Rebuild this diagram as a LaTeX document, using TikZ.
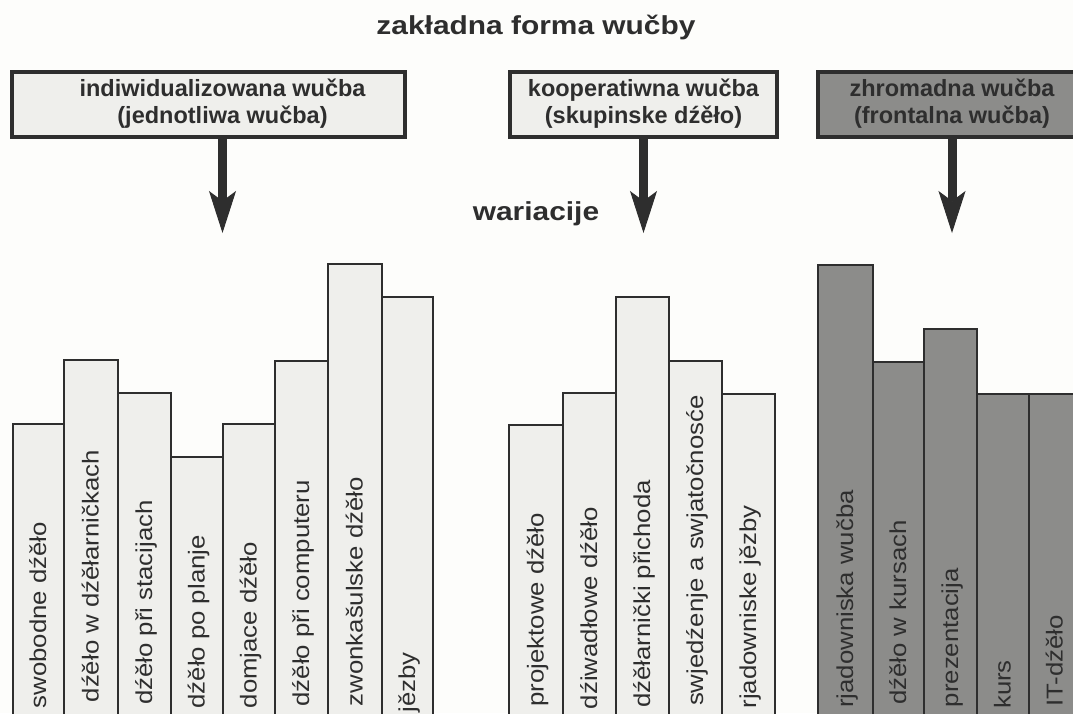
\documentclass[tikz,border=0pt]{standalone}
\usepackage{fontspec}
\setmainfont{Liberation Sans}
\newfontfamily\barfont{Liberation Sans}[FakeStretch=1.12]
\newfontfamily\headfont{Liberation Sans}[FakeStretch=1.15]
\usepackage{xcolor}
\usepackage{tikz}
\usetikzlibrary{arrows.meta}

\definecolor{paper}{HTML}{FDFDFB}
\definecolor{lightbar}{HTML}{EFEFEC}
\definecolor{darkbar}{HTML}{8C8C8A}
\definecolor{ink}{HTML}{2E2E2E}

\tikzset{
	formbox/.style={draw=ink, line width=4pt, inner sep=0pt,
		minimum width=#1, minimum height=65pt},
	formtext/.style={align=center, inner sep=0pt, text=ink,
		font=\fontsize{23.5}{27}\selectfont\bfseries},
	headline/.style={inner sep=0pt, text=ink, font=\headfont\bfseries\fontsize{26}{30}\selectfont},
	lightcol/.style={draw=ink, line width=2pt, fill=lightbar},
	darkcol/.style={draw=ink, line width=2pt, fill=darkbar},
	barlabel/.style={rotate=90, anchor=mid east, inner sep=0pt, text=ink,
		font=\barfont\fontsize{23}{23}\selectfont},
	downarrow/.style={draw=ink, line width=9pt,
		-{Stealth[length=42pt, width=27pt, inset=10pt, line width=1pt]}}
}

\begin{document}
\begin{tikzpicture}[x=1pt, y=-1pt]
	\useasboundingbox (0,0) rectangle (1073,713);
	\fill[paper] (0,0) rectangle (1073,713);
	\clip (0,0) rectangle (1073,713);

	\node[headline] (title) at (536,27) {zakładna forma wučby};

	\node[formbox=393pt, fill=lightbar] (indiv) at (208.5,104) {};
	\node[formtext] (indivtext) at (222.5,104) {indiwidualizowana wučba\\(jednotliwa wučba)};
	\node[formbox=267pt, fill=lightbar] (koop) at (643.5,104) {};
	\node[formtext] (kooptext) at (643.5,104) {kooperatiwna wučba\\(skupinske dźěło)};
	\node[formbox=268pt, fill=darkbar] (zhrom) at (952,104) {};
	\node[formtext] (zhromtext) at (952,104) {zhromadna wučba\\(frontalna wučba)};

	\coordinate (indivtip) at (222.5,233);
	\coordinate (kooptip) at (643.5,233);
	\coordinate (zhromtip) at (952,233);
	\draw[downarrow] (indiv.south -| indivtip) -- (indivtip);
	\draw[downarrow] (koop.south) -- (kooptip);
	\draw[downarrow] (zhrom.south) -- (zhromtip);

	\node[headline] (var) at (536,214) {wariacije};

	% individualizowana wucba
	\draw[lightcol] (13,424) rectangle (64,720);
	\node[barlabel] (iv1) at (43.5,522) {swobodne dźěło};
	\draw[lightcol] (64,360) rectangle (118,720);
	\node[barlabel] (iv2) at (96,450) {dźěło w dźěłarničkach};
	\draw[lightcol] (118,393) rectangle (171,720);
	\node[barlabel] (iv3) at (149.5,500) {dźěło při stacijach};
	\draw[lightcol] (171,457) rectangle (223,720);
	\node[barlabel] (iv4) at (202,535) {dźěło po planje};
	\draw[lightcol] (223,424) rectangle (275,720);
	\node[barlabel] (iv5) at (254,542) {domjace dźěło};
	\draw[lightcol] (275,361) rectangle (328,720);
	\node[barlabel] (iv6) at (306.5,480) {dźěło při computeru};
	\draw[lightcol] (328,264) rectangle (382,720);
	\node[barlabel] (iv7) at (360,477) {zwonkašulske dźěło};
	\draw[lightcol] (382,297) rectangle (433,720);
	\node[barlabel] (iv8) at (412.5,652) {jězby};

	% kooperatiwna wucba
	\draw[lightcol] (509,425) rectangle (563,720);
	\node[barlabel] (ko1) at (541,513) {projektowe dźěło};
	\draw[lightcol] (563,393) rectangle (616,720);
	\node[barlabel] (ko2) at (594.5,507) {dźiwadłowe dźěło};
	\draw[lightcol] (616,297) rectangle (669,720);
	\node[barlabel] (ko3) at (647.5,480) {dźěłarnički přichoda};
	\draw[lightcol] (669,361) rectangle (722,720);
	\node[barlabel] (ko4) at (700.5,395) {swjedźenje a swjatočnosće};
	\draw[lightcol] (722,394) rectangle (775,720);
	\node[barlabel] (ko5) at (753.5,505) {rjadowniske jězby};

	% zhromadna wucba
	\draw[darkcol] (818,265) rectangle (873,720);
	\node[barlabel] (zh1) at (850.5,490) {rjadowniska wučba};
	\draw[darkcol] (873,362) rectangle (924,720);
	\node[barlabel] (zh2) at (903.5,520) {dźěło w kursach};
	\draw[darkcol] (924,329) rectangle (977,720);
	\node[barlabel] (zh3) at (955.5,568) {prezentacija};
	\draw[darkcol] (977,394) rectangle (1029,720);
	\node[barlabel] (zh4) at (1008,660) {kurs};
	\draw[darkcol] (1029,394) rectangle (1081,720);
	\node[barlabel] (zh5) at (1060,615) {IT-dźěło};
\end{tikzpicture}
\end{document}
